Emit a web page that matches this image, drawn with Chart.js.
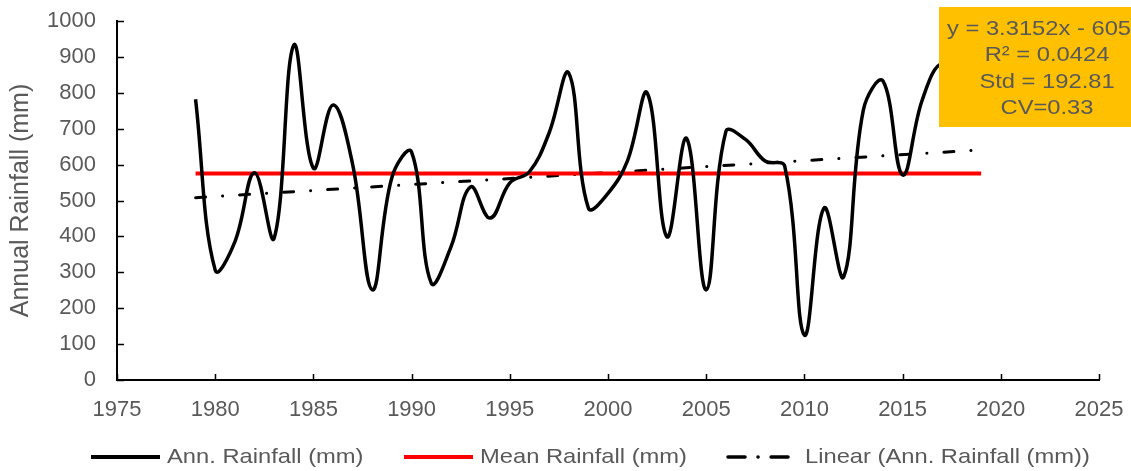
<!DOCTYPE html>
<html>
<head>
<meta charset="utf-8">
<script src="https://cdn.jsdelivr.net/npm/chart.js@4.4.1/dist/chart.umd.min.js"></script>
<style>
  html, body { margin: 0; padding: 0; background: #ffffff; }
  #wrap { width: 1131px; height: 471px; position: relative; }
</style>
</head>
<body>
<div id="wrap"><canvas id="c" width="1131" height="471"></canvas></div>
<script>
// ---- data ----
const years = [1979, 1980, 1981, 1982, 1983, 1984, 1985, 1986, 1987, 1988,
               1989, 1990, 1991, 1992, 1993, 1994, 1995, 1996, 1997, 1998,
               1999, 2000, 2001, 2002, 2003, 2004, 2005, 2006, 2007, 2008,
               2009, 2010, 2011, 2012, 2013, 2014, 2015, 2016, 2017, 2018, 2019];
const annualRainfall = [782, 306, 385, 577, 395, 933, 590, 766, 600, 251,
                        565, 635, 270, 370, 538, 451, 549, 580, 688, 855,
                        479, 520, 612, 799, 399, 673, 251, 692, 670, 610,
                        595, 125, 479, 287, 752, 833, 571, 780, 880, 790, 770];
const meanYears = [1979, 2019];
const meanRainfall = [575, 575];
const trendYears = [1979, 2019];
const trendRainfall = [508, 641];
const xTickLabels = [1975, 1980, 1985, 1990, 1995, 2000, 2005, 2010, 2015, 2020, 2025];
const yTickLabels = [0, 100, 200, 300, 400, 500, 600, 700, 800, 900, 1000];
const seriesNames = ['Ann. Rainfall (mm)', 'Mean Rainfall (mm)', 'Linear (Ann. Rainfall (mm))'];
const statsLines = ['y = 3.3152x - 6052', 'R\u00B2 = 0.0424', 'Std = 192.81', 'CV=0.33'];
const yAxisTitle = 'Annual Rainfall (mm)';

// ---- styles ----
const FONT = "'Liberation Sans', Arial, sans-serif";
const TEXT = '#595959';
const TREND_DASH = [10, 17, 0.1, 17];
const TEXT_STRETCH = 1.13;

const toPoints = (xs, ys) => xs.map((x, i) => ({ x: x, y: ys[i] }));

function stretchedText(ctx, str, x, y, align) {
  const w = ctx.measureText(str).width * TEXT_STRETCH;
  let left = x;
  if (align === 'center') left = x - w / 2;
  ctx.save();
  ctx.translate(left, y);
  ctx.scale(TEXT_STRETCH, 1);
  ctx.textAlign = 'left';
  ctx.fillText(str, 0, 0);
  ctx.restore();
}

function zeroPadding(s) {
  s.paddingTop = 0; s.paddingBottom = 0; s.paddingLeft = 0; s.paddingRight = 0;
}

const insideTicks = {
  id: 'insideTicks',
  beforeDatasetsDraw(chart) {
    const ctx = chart.ctx, xs = chart.scales.x, ys = chart.scales.y;
    const a = chart.chartArea;
    ctx.save();
    ctx.strokeStyle = '#000';
    ctx.lineWidth = 1.5;
    ctx.beginPath();
    xTickLabels.forEach(v => {
      const px = Math.round(xs.getPixelForValue(v)) + 0.5;
      ctx.moveTo(px, a.bottom);
      ctx.lineTo(px, a.bottom - 6);
    });
    yTickLabels.forEach(v => {
      const py = Math.round(ys.getPixelForValue(v)) + 0.5;
      ctx.moveTo(a.left, py);
      ctx.lineTo(a.left + 7, py);
    });
    ctx.stroke();
    ctx.restore();
  }
};

const statsBox = {
  id: 'statsBox',
  afterDatasetsDraw(chart) {
    const ctx = chart.ctx;
    ctx.save();
    ctx.fillStyle = '#FFC000';
    ctx.fillRect(939, 7, 200, 120);
    ctx.fillStyle = TEXT;
    ctx.font = '21px ' + FONT;
    ctx.textBaseline = 'middle';
    stretchedText(ctx, statsLines[0], 947, 29, 'left');
    const ys = [55, 82, 108];
    for (let i = 1; i < statsLines.length; i++) {
      stretchedText(ctx, statsLines[i], 1047, ys[i - 1], 'center');
    }
    ctx.restore();
  }
};

const customLegend = {
  id: 'customLegend',
  afterDraw(chart) {
    const ctx = chart.ctx;
    const y = 457;
    const items = [
      { x0: 91, x1: 160, tx: 167 },
      { x0: 404, x1: 473, tx: 480 },
      { x0: 728, x1: 788, tx: 805 }
    ];
    ctx.save();
    chart.data.datasets.forEach((ds, i) => {
      const it = items[i];
      ctx.beginPath();
      ctx.strokeStyle = ds.borderColor;
      ctx.lineWidth = i === 2 ? 3.5 : 4;
      ctx.lineCap = i === 2 ? 'round' : 'butt';
      ctx.setLineDash(i === 2 ? [17, 13, 0.1, 13] : []);
      ctx.moveTo(it.x0, y);
      ctx.lineTo(it.x1, y);
      ctx.stroke();
      ctx.setLineDash([]);
      ctx.fillStyle = TEXT;
      ctx.font = '21px ' + FONT;
      ctx.textBaseline = 'middle';
      stretchedText(ctx, ds.label, it.tx, y, 'left');
    });
    ctx.restore();
  }
};

new Chart(document.getElementById('c'), {
  type: 'line',
  data: {
    datasets: [
      {
        label: seriesNames[0],
        data: toPoints(years, annualRainfall),
        borderColor: '#000000',
        backgroundColor: '#000000',
        borderWidth: 3.5,
        tension: 0.4,
        pointRadius: 0,
        fill: false
      },
      {
        label: seriesNames[1],
        data: toPoints(meanYears, meanRainfall),
        borderColor: '#FF0000',
        backgroundColor: '#FF0000',
        borderWidth: 4,
        pointRadius: 0,
        fill: false
      },
      {
        label: seriesNames[2],
        data: toPoints(trendYears, trendRainfall),
        borderColor: '#000000',
        backgroundColor: '#000000',
        borderWidth: 3,
        borderDash: TREND_DASH,
        borderCapStyle: 'round',
        pointRadius: 0,
        fill: false
      }
    ]
  },
  options: {
    responsive: false,
    animation: false,
    layout: { padding: { top: 21, right: 32, left: 0, bottom: 0 } },
    plugins: {
      legend: { display: false },
      tooltip: { enabled: false }
    },
    scales: {
      x: {
        type: 'linear',
        min: xTickLabels[0],
        max: xTickLabels[xTickLabels.length - 1],
        afterFit(s) { s.height = 91; zeroPadding(s); },
        afterBuildTicks(s) { s.ticks = xTickLabels.map(v => ({ value: v })); },
        grid: { display: true, drawOnChartArea: false, drawTicks: false },
        border: { display: true, color: '#000000', width: 2 },
        ticks: {
          padding: 17,
          color: TEXT,
          font: { family: FONT, size: 22 },
          maxRotation: 0,
          autoSkip: false,
          callback: v => String(v)
        }
      },
      y: {
        min: yTickLabels[0],
        max: yTickLabels[yTickLabels.length - 1],
        afterFit(s) { s.width = 117; zeroPadding(s); },
        afterBuildTicks(s) { s.ticks = yTickLabels.map(v => ({ value: v })); },
        grid: { display: true, drawOnChartArea: false, drawTicks: false },
        border: { display: true, color: '#000000', width: 2 },
        ticks: {
          padding: 21,
          color: TEXT,
          font: { family: FONT, size: 22 },
          autoSkip: false,
          callback: v => String(v)
        },
        title: {
          display: true,
          text: yAxisTitle,
          color: TEXT,
          font: { family: FONT, size: 25 },
          padding: { top: 6, bottom: 0 }
        }
      }
    }
  },
  plugins: [insideTicks, statsBox, customLegend]
});
</script>
</body>
</html>
